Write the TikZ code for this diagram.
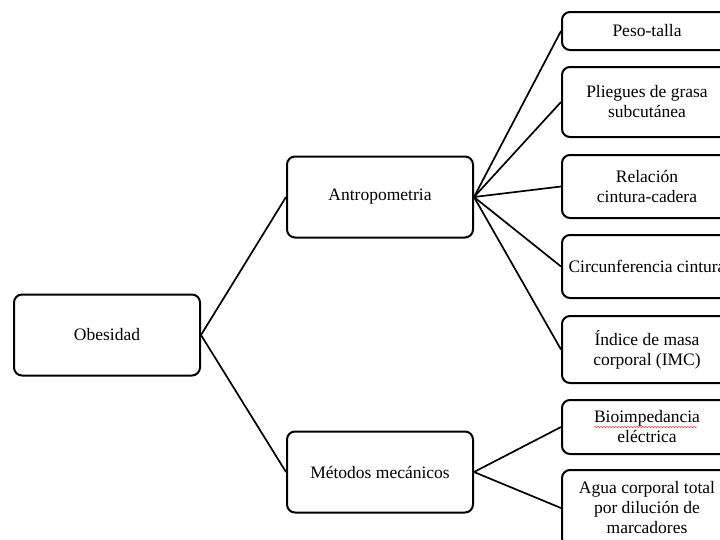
\documentclass[tikz,border=0pt]{standalone}
\usepackage{fontspec}
\setmainfont{Liberation Serif}
\usepackage{xcolor}
\usetikzlibrary{positioning,decorations.pathmorphing}
\definecolor{SpellRed}{HTML}{E04040}

\begin{document}
\begin{tikzpicture}[x=1pt,y=-1pt,
    box/.style={draw,line width=2pt,rounded corners=8pt,align=center,inner sep=0pt,
        font=\fontsize{17.5}{20}\selectfont},
    mainbox/.style={box,minimum width=186pt,minimum height=81pt},
    leafbox/.style={box,minimum width=170pt},
    link/.style={line width=1.7pt}]
    \useasboundingbox (0,0) rectangle (720,539);
    \node[mainbox] (obes) at (107,335) {Obesidad};
    \node[mainbox] (antro) at (380,197) {Antropometria};
    \node[mainbox] (meca) at (380,472) {Métodos mecánicos};
    \node[leafbox,minimum height=38pt] (peso) at (647,31) {Peso-talla};
    \node[leafbox,minimum height=70pt] (plieg) at (647,102) {Pliegues de grasa\\subcutánea};
    \node[leafbox,minimum height=63pt] (rel) at (647,186.5) {Relación\\cintura-cadera};
    \node[leafbox,minimum height=63pt] (circ) at (647,266.5) {Circunferencia cintura};
    \node[leafbox,minimum height=67pt] (imc) at (647,349.5) {Índice de masa\\corporal (IMC)};
    \node[leafbox,minimum height=54pt] (bio) at (647,427) {Bioimpedancia\\eléctrica};
    \node[leafbox,minimum height=76pt] (agua) at (647,508) {Agua corporal total\\por dilución de\\marcadores};
    \draw[link] (obes.east) -- (antro.west);
    \draw[link] (obes.east) -- (meca.west);
    \foreach \leaf in {peso,plieg,rel,circ,imc}
        \draw[link] (antro.east) -- (\leaf.west);
    \foreach \leaf in {bio,agua}
        \draw[link] (meca.east) -- (\leaf.west);
    \draw[SpellRed,line width=0.5pt,decorate,decoration={snake,amplitude=0.7pt,segment length=3pt}]
        (594,427) -- (697,427);
\end{tikzpicture}
\end{document}
